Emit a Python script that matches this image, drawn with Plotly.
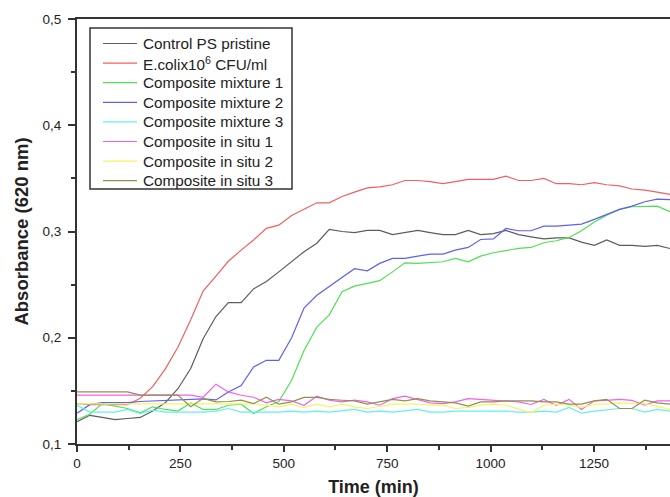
import plotly.graph_objects as go

time_min = [0, 31, 61, 92, 122, 153, 183, 214, 244, 275, 305, 336, 366, 397, 427, 458,
            488, 519, 549, 580, 610, 641, 671, 702, 732, 763, 793, 824, 854, 885, 915, 946,
            976, 1007, 1037, 1068, 1098, 1129, 1159, 1190, 1220, 1251, 1281, 1312, 1342, 1373, 1403, 1434]

control_ps = [0.121, 0.127, 0.125, 0.123, 0.124, 0.125, 0.131, 0.139, 0.152, 0.171, 0.199, 0.220, 0.233, 0.233, 0.246, 0.253,
              0.262, 0.2715, 0.281, 0.289, 0.302, 0.300, 0.299, 0.301, 0.301, 0.297, 0.299, 0.301, 0.299, 0.297, 0.297, 0.301,
              0.297, 0.298, 0.301, 0.297, 0.295, 0.293, 0.294, 0.294, 0.290, 0.287, 0.292, 0.287, 0.287, 0.286, 0.287, 0.284]

ecoli = [0.138, 0.137, 0.137, 0.137, 0.137, 0.143, 0.154, 0.171, 0.191, 0.217, 0.244, 0.258, 0.272, 0.2825, 0.292, 0.303,
         0.306, 0.315, 0.321, 0.327, 0.327, 0.333, 0.337, 0.341, 0.342, 0.344, 0.348, 0.348, 0.347, 0.345, 0.347, 0.349,
         0.349, 0.349, 0.352, 0.348, 0.348, 0.350, 0.345, 0.345, 0.344, 0.346, 0.344, 0.343, 0.340, 0.339, 0.337, 0.335]

mixture_1 = [0.123, 0.128, 0.138, 0.1355, 0.1334, 0.1293, 0.135, 0.1325, 0.131, 0.1387, 0.1325, 0.1325, 0.1365, 0.1375, 0.1287, 0.135,
             0.140, 0.160, 0.188, 0.210, 0.2215, 0.2433, 0.2486, 0.2512, 0.2537, 0.262, 0.2705, 0.270, 0.2705, 0.2715, 0.2747, 0.2715,
             0.2768, 0.280, 0.282, 0.2841, 0.285, 0.2894, 0.2913, 0.2944, 0.3007, 0.309, 0.3154, 0.3208, 0.3233, 0.3239, 0.3239, 0.3186]

mixture_2 = [0.129, 0.137, 0.139, 0.139, 0.139, 0.140, 0.1405, 0.141, 0.1415, 0.142, 0.1425, 0.1415, 0.149, 0.155, 0.1725, 0.1788,
             0.1788, 0.200, 0.228, 0.240, 0.248, 0.2565, 0.265, 0.263, 0.270, 0.2747, 0.2747, 0.2768, 0.2787, 0.2787, 0.2825, 0.285,
             0.2925, 0.293, 0.3029, 0.3007, 0.3007, 0.305, 0.305, 0.306, 0.307, 0.3114, 0.3164, 0.3208, 0.3239, 0.328, 0.3305, 0.330]

mixture_3 = [0.1365, 0.130, 0.130, 0.130, 0.1325, 0.1287, 0.1318, 0.130, 0.130, 0.130, 0.130, 0.131, 0.1334, 0.130, 0.1297, 0.130,
             0.130, 0.131, 0.130, 0.131, 0.130, 0.131, 0.1325, 0.130, 0.131, 0.130, 0.131, 0.1325, 0.130, 0.130, 0.131, 0.131,
             0.131, 0.131, 0.131, 0.130, 0.130, 0.131, 0.130, 0.1344, 0.129, 0.131, 0.1325, 0.1334, 0.1334, 0.130, 0.1325, 0.131]

in_situ_1 = [0.146, 0.146, 0.146, 0.146, 0.146, 0.146, 0.146, 0.146, 0.146, 0.146, 0.144, 0.1563, 0.149, 0.1459, 0.144, 0.1387,
             0.142, 0.1406, 0.1365, 0.145, 0.1412, 0.1396, 0.1412, 0.1396, 0.1365, 0.1427, 0.145, 0.142, 0.1387, 0.138, 0.1396, 0.1427,
             0.142, 0.141, 0.1406, 0.1396, 0.1372, 0.142, 0.1365, 0.142, 0.1325, 0.1406, 0.141, 0.142, 0.141, 0.1365, 0.1406, 0.1406]

in_situ_2 = [0.1378, 0.1378, 0.1378, 0.1378, 0.1378, 0.1378, 0.1378, 0.1378, 0.1378, 0.1378, 0.1378, 0.1378, 0.1378, 0.1378, 0.1378, 0.1365,
             0.135, 0.1375, 0.1344, 0.1375, 0.135, 0.1375, 0.135, 0.1334, 0.1356, 0.1375, 0.1375, 0.1375, 0.1365, 0.1365, 0.1334, 0.1344,
             0.1365, 0.1375, 0.1365, 0.1325, 0.1293, 0.1365, 0.1375, 0.1365, 0.1344, 0.1375, 0.1375, 0.1387, 0.138, 0.138, 0.135, 0.1325]

in_situ_3 = [0.149, 0.149, 0.149, 0.149, 0.149, 0.146, 0.146, 0.146, 0.146, 0.135, 0.143, 0.1396, 0.140, 0.1412, 0.138, 0.144,
             0.1375, 0.1396, 0.1438, 0.1438, 0.142, 0.1412, 0.1406, 0.1375, 0.1396, 0.142, 0.1406, 0.1427, 0.1406, 0.1396, 0.1387, 0.1356,
             0.1396, 0.1396, 0.1406, 0.1406, 0.1406, 0.1396, 0.1396, 0.1375, 0.1375, 0.1406, 0.142, 0.1334, 0.1334, 0.1412, 0.1387, 0.1375]

series_names = ["Control PS pristine", "E.colix10<sup>6</sup> CFU/ml", "Composite mixture 1",
                "Composite mixture 2", "Composite mixture 3", "Composite in situ 1",
                "Composite in situ 2", "Composite in situ 3"]
series_values = [control_ps, ecoli, mixture_1, mixture_2, mixture_3, in_situ_1, in_situ_2, in_situ_3]
series_colors = ["#5c5c5c", "#f06060", "#50e050", "#6060f0", "#60f0f0", "#f060f0", "#f5f560", "#909050"]

y_tick_vals = [0.1, 0.2, 0.3, 0.4, 0.5]
y_tick_text = ["0,1", "0,2", "0,3", "0,4", "0,5"]
x_tick_vals = [0, 250, 500, 750, 1000, 1250]

W, H = 670, 497
ML, MR, MT, MB = 77, 0, 19, 53
PW, PH = W - ML - MR, H - MT - MB


def px_x(p):
    return (p - ML) / PW


def px_y(p):
    return 1 - (p - MT) / PH


fig = go.Figure()
for name, vals, col in zip(series_names, series_values, series_colors):
    fig.add_trace(go.Scatter(x=time_min, y=vals, mode="lines", name=name,
                             line=dict(color=col, width=1.2), showlegend=False))

axis_col = "#333333"

# manual legend box (drawn like the reference's framed legend)
shapes = [dict(type="rect", xref="paper", yref="paper",
               x0=px_x(90), x1=px_x(292), y0=px_y(189), y1=px_y(28),
               fillcolor="white", line=dict(color=axis_col, width=1.5), layer="above")]
annotations = []
row0, row_step = 43.5, 19.6
for i, (name, col) in enumerate(zip(series_names, series_colors)):
    yc = row0 + i * row_step
    shapes.append(dict(type="line", xref="paper", yref="paper",
                       x0=px_x(103), x1=px_x(137), y0=px_y(yc), y1=px_y(yc),
                       line=dict(color=col, width=1.2), layer="above"))
    annotations.append(dict(text=name, xref="paper", yref="paper",
                            x=px_x(141), y=px_y(yc), xanchor="left", yanchor="middle",
                            showarrow=False, font=dict(size=15.3, color="#222222")))

fig.update_layout(
    width=W, height=H,
    margin=dict(l=ML, r=MR, t=MT, b=MB),
    paper_bgcolor="white", plot_bgcolor="white",
    font=dict(family="Liberation Sans, Arial, sans-serif", color="#222222", size=13.5),
    showlegend=False,
    shapes=shapes,
    annotations=annotations,
    xaxis=dict(range=[0, 1434], showgrid=False, zeroline=False,
               showline=True, linecolor=axis_col, linewidth=2, mirror=True,
               ticks="outside", ticklen=6, tickwidth=1.5, tickcolor=axis_col,
               tickvals=x_tick_vals,
               minor=dict(ticks="outside", ticklen=4, tickwidth=1.5, tickcolor=axis_col,
                          tickvals=[125, 375, 625, 875, 1125, 1375]),
               title=dict(text="<b>Time (min)</b>", font=dict(size=18), standoff=11)),
    yaxis=dict(range=[0.1, 0.5], showgrid=False, zeroline=False,
               showline=True, linecolor=axis_col, linewidth=2,
               ticks="outside", ticklen=7, tickwidth=1.5, tickcolor=axis_col,
               tickvals=y_tick_vals, ticktext=y_tick_text, ticklabelstandoff=4,
               minor=dict(ticks="outside", ticklen=4, tickwidth=1.5, tickcolor=axis_col,
                          tickvals=[0.15, 0.25, 0.35, 0.45]),
               title=dict(text="<b>Absorbance (620 nm)</b>", font=dict(size=18.5), standoff=9)),
)

fig.write_html("out.html")
